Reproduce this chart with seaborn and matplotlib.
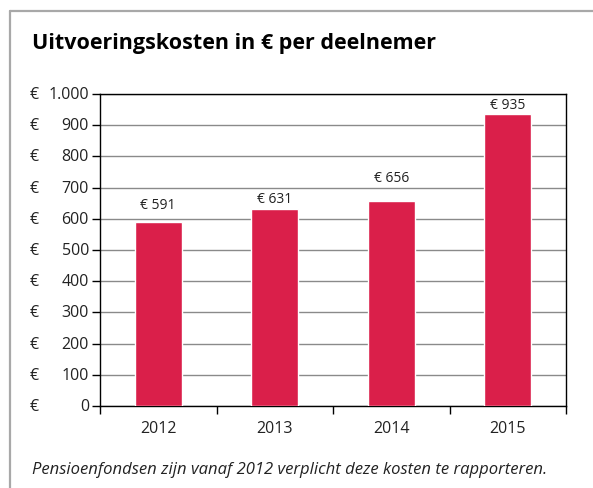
import matplotlib
matplotlib.use("Agg")
import matplotlib.pyplot as plt
import matplotlib.transforms as mtransforms
from matplotlib.lines import Line2D
import seaborn as sns
import pandas as pd

years = ["2012", "2013", "2014", "2015"]
costs = [591, 631, 656, 935]
y_ticks = [0, 100, 200, 300, 400, 500, 600, 700, 800, 900, 1000]

TITLE = "Uitvoeringskosten in € per deelnemer"
NOTE = "Pensioenfondsen zijn vanaf 2012 verplicht deze kosten te rapporteren."
BAR_COLOR = "#DA1F4A"
# labels in the original sit between grid lines, so the gap above each bar differs
label_gap_px = [17, 11, 24, 10]

sns.set_theme(style="white")
plt.rcParams["font.family"] = ["Open Sans", "DejaVu Sans"]

df = pd.DataFrame({"year": years, "cost": costs})

fig = plt.figure(figsize=(5.93, 4.89), dpi=100)
ax = fig.add_axes([100 / 593, 1 - 407 / 489, 466 / 593, 312 / 489])

sns.barplot(data=df, x="year", y="cost", color=BAR_COLOR, width=0.4,
            saturation=1, ax=ax, zorder=3)

ax.set_ylim(0, 1000)
ax.set_xlim(-0.5, len(years) - 0.5)
ax.set_yticks(y_ticks)
ax.set_yticklabels([])
ax.yaxis.grid(True, color="#8a8a8a", linewidth=1.0, zorder=0)
ax.set_axisbelow(True)
ax.set_xlabel("")
ax.set_ylabel("")

for s in ax.spines.values():
    s.set_color("black")
    s.set_linewidth(1.0)

ax.tick_params(axis="y", which="major", length=6, width=1, color="black", left=True, direction="out")
ax.set_xticks(range(len(years)))
ax.set_xticks([i - 0.5 for i in range(len(years) + 1)], minor=True)
ax.tick_params(axis="x", which="major", length=0, pad=10, labelsize=11.5, colors="#222222")
ax.tick_params(axis="x", which="minor", length=6, width=1, color="black", bottom=True, direction="out")

# y tick labels: euro sign left, number right aligned
trans = mtransforms.blended_transform_factory(fig.transFigure, ax.transData)
for t in y_ticks:
    num = f"{t:,}".replace(",", ".")
    ax.text(30 / 593, t, "€", transform=trans, ha="left", va="center",
            fontsize=11.5, color="#222222")
    ax.text(89 / 593, t, num, transform=trans, ha="right", va="center",
            fontsize=11.5, color="#222222")

for i, v in enumerate(costs):
    ax.annotate(f"€ {v}", (i, v), xytext=(0, label_gap_px[i] * 0.72),
                textcoords="offset points", ha="center", va="center",
                fontsize=10, color="#222222", zorder=5)

fig.text(32 / 593, 1 - 43 / 489, TITLE, fontsize=15.5, fontweight="bold",
         ha="left", va="center", color="black")
fig.text(32 / 593, 1 - 470 / 489, NOTE, fontsize=12, style="italic",
         ha="left", va="center", color="#222222")

# grey frame on top and left
fig.add_artist(Line2D([10 / 593, 1], [1 - 12 / 489, 1 - 12 / 489],
                      transform=fig.transFigure, color="#a8a8a8", linewidth=1.6))
fig.add_artist(Line2D([10 / 593, 10 / 593], [0, 1 - 12 / 489],
                      transform=fig.transFigure, color="#a8a8a8", linewidth=1.6))

fig.savefig("out.png", dpi=100)
